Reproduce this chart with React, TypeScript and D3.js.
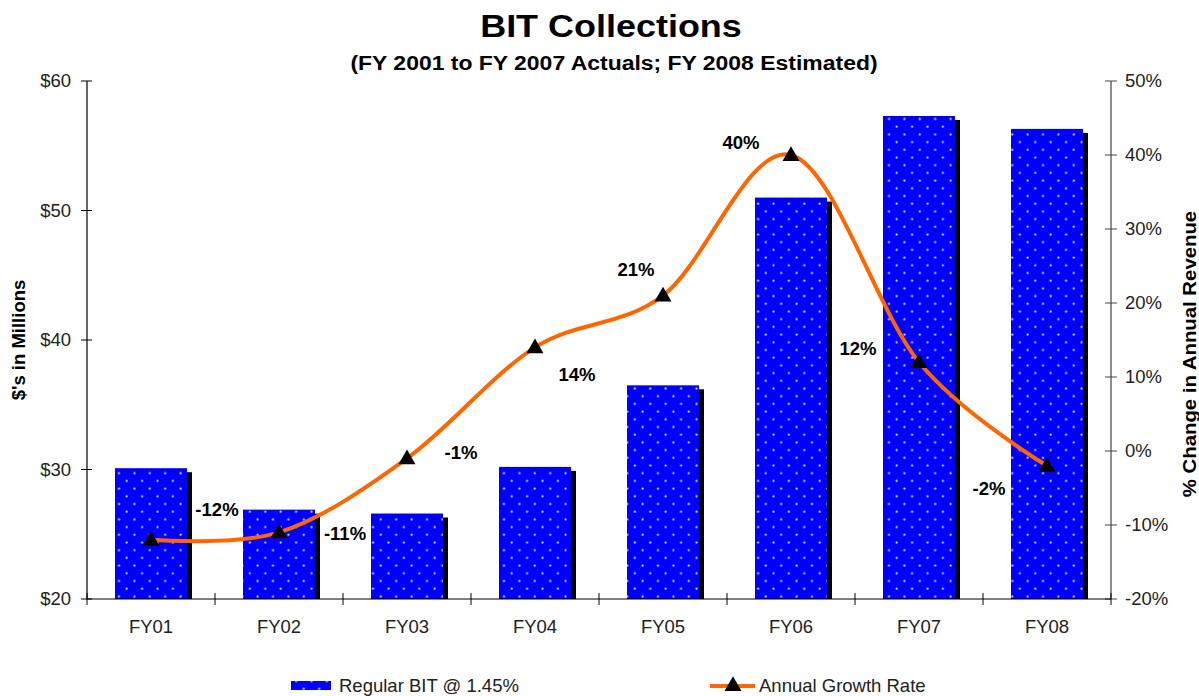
import React from "react";
import * as d3 from "d3";

const categories = ["FY01", "FY02", "FY03", "FY04", "FY05", "FY06", "FY07", "FY08"];
const collections = [30.1, 26.9, 26.6, 30.2, 36.5, 51.0, 57.3, 56.3];
const growth = [-12, -11, -1, 14, 21, 40, 12, -2];
const growthLabels = ["-12%", "-11%", "-1%", "14%", "21%", "40%", "12%", "-2%"];
const leftTicks = [20, 30, 40, 50, 60];
const rightTicks = [-20, -10, 0, 10, 20, 30, 40, 50];

// where each growth label sits relative to its marker
const labelOffsets: [number, number][] = [
  [66, -30], [66, 1], [54, -6], [42, 27], [-27, -26], [-50, -12], [-61, -13], [-58, 23],
];

const W = 1199;
const H = 696;
const FONT = "'Liberation Sans', Arial, sans-serif";
const BLUE = "#0000FF";
const ORANGE = "#FF6600";

// text drawn slightly wider than the font, like the stretched original
function Wide({ x, y, sx, children, ...rest }: any) {
  return (
    <text transform={`translate(${x},${y}) scale(${sx},1)`} textAnchor="middle" {...rest}>
      {children}
    </text>
  );
}

export default function App() {
  const left = 87, right = 1111, top = 81, bottom = 599;

  const X = d3.scaleBand<string>().domain(categories).range([left, right]).paddingInner(0.4375).paddingOuter(0.21875);
  const Y = d3.scaleLinear().domain([20, 60]).range([bottom, top]);
  const Y2 = d3.scaleLinear().domain([-20, 50]).range([bottom, top]);
  const cx = (c: string) => (X(c) as number) + X.bandwidth() / 2;

  const line = d3.line<number>()
    .x((_, i) => cx(categories[i]))
    .y((d) => Y2(d))
    .curve(d3.curveCatmullRom.alpha(0));

  const tri = d3.symbol().type(d3.symbolTriangle).size(125)();
  const step = (right - left) / categories.length;

  return (
    <svg width={W} height={H} style={{ position: "absolute", left: 0, top: 0, fontFamily: FONT }}>
      <defs>
        <pattern id="dots" patternUnits="userSpaceOnUse" width={15.4} height={15.4} x={0} y={0}>
          <rect width={15.4} height={15.4} fill={BLUE} />
          <circle cx={3.5} cy={3.5} r={1.1} fill="#dde4ff" />
          <circle cx={11.2} cy={11.2} r={1.1} fill="#dde4ff" />
        </pattern>
      </defs>
      <rect width={W} height={H} fill="#fff" />

      <Wide x={611} y={37} sx={1.16} fontSize={31} fontWeight="bold">BIT Collections</Wide>
      <Wide x={614} y={70} sx={1.12} fontSize={20.5} fontWeight="bold">(FY 2001 to FY 2007 Actuals; FY 2008 Estimated)</Wide>

      {/* bars with shadow */}
      {collections.map((v, i) => (
        <g key={categories[i]}>
          <rect x={(X(categories[i]) as number) + 5} y={Y(v) + 4} width={X.bandwidth()} height={bottom - Y(v) - 4} fill="#000" />
          <rect x={X(categories[i])} y={Y(v)} width={X.bandwidth()} height={bottom - Y(v)} fill="url(#dots)" />
        </g>
      ))}

      {/* left axis */}
      <line x1={left} x2={left} y1={top} y2={bottom} stroke="#000" strokeWidth={1.2} />
      {leftTicks.map((t) => (
        <g key={t}>
          <line x1={left - 6} x2={left + 5} y1={Y(t)} y2={Y(t)} stroke="#000" />
          <text x={71} y={Y(t)} dy="0.35em" textAnchor="end" fontSize={18.5} fill="#222">{"$" + t}</text>
        </g>
      ))}
      <text transform={`translate(25,340) rotate(-90)`} textAnchor="middle" fontSize={18.5} fontWeight="bold">$'s in Millions</text>

      {/* right axis */}
      <line x1={right} x2={right} y1={top} y2={bottom} stroke="#444" strokeWidth={1.2} />
      {rightTicks.map((t) => (
        <g key={t}>
          <line x1={right - 6} x2={right + 6} y1={Y2(t)} y2={Y2(t)} stroke="#444" />
          <text x={1125} y={Y2(t)} dy="0.35em" textAnchor="start" fontSize={18.5} fill="#222">{t + "%"}</text>
        </g>
      ))}
      <text transform={`translate(1196,354) rotate(-90) scale(1.1,1)`} textAnchor="middle" fontSize={18.5} fontWeight="bold">% Change in Annual Revenue</text>

      {/* bottom axis */}
      <line x1={left} x2={right} y1={bottom} y2={bottom} stroke="#000" strokeWidth={1.2} />
      {d3.range(categories.length + 1).map((i) => (
        <line key={i} x1={left + i * step} x2={left + i * step} y1={bottom - 6} y2={bottom + 6} stroke="#000" />
      ))}
      {categories.map((c) => (
        <text key={c} x={cx(c)} y={627} dy="0.35em" textAnchor="middle" fontSize={18.5} fill="#222">{c}</text>
      ))}

      {/* growth line */}
      <path d={line(growth) as string} fill="none" stroke={ORANGE} strokeWidth={4} strokeLinejoin="round" />
      {growth.map((g, i) => (
        <path key={i} d={tri as string} transform={`translate(${cx(categories[i])},${Y2(g) + 1})`} fill="#000" />
      ))}
      {growth.map((g, i) => (
        <Wide key={i} x={cx(categories[i]) + labelOffsets[i][0]} y={Y2(g) + labelOffsets[i][1]} sx={1.06} dy="0.35em"
          fontSize={17.5} fontWeight="bold">{growthLabels[i]}</Wide>
      ))}

      {/* legend */}
      <rect x={291} y={681} width={40} height={9} fill="url(#dots)" />
      <text x={339} y={686} dy="0.35em" fontSize={18.5} fill="#222">Regular BIT @ 1.45%</text>
      <line x1={710} x2={755} y1={686} y2={686} stroke={ORANGE} strokeWidth={4} />
      <path d={tri as string} transform="translate(733,686)" fill="#000" />
      <text x={759} y={686} dy="0.35em" fontSize={18.5} fill="#222">Annual Growth Rate</text>
    </svg>
  );
}
